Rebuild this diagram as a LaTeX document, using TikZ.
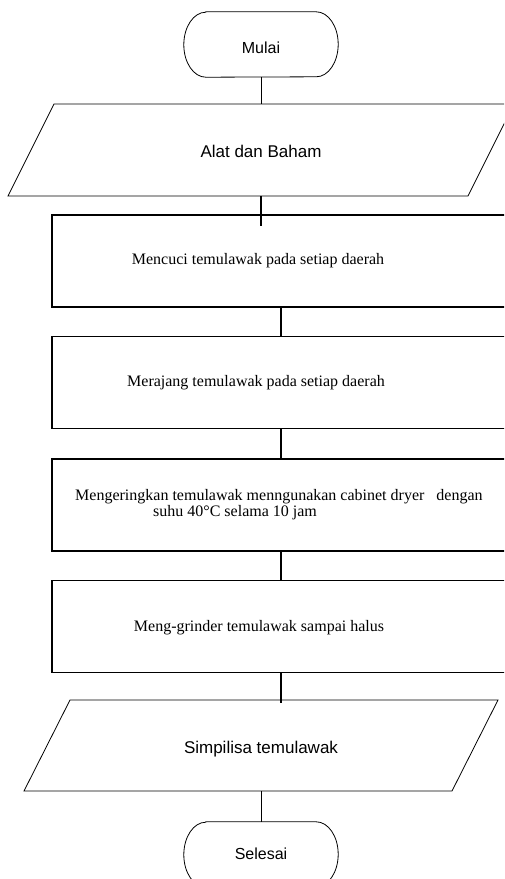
\documentclass[tikz,border=0pt]{standalone}
\usepackage{fontspec}
\setmainfont{Liberation Serif}
\newfontfamily\sansf{Liberation Sans}
\newcommand{\termoutline}[1]{%
  \draw[line width=0.8pt] ([xshift=22pt]#1.north west) -- ([xshift=-22pt]#1.north east)
    arc[start angle=90,end angle=-90,x radius=22pt,y radius=32.5pt]
    -- ([xshift=22pt]#1.south west)
    arc[start angle=-90,end angle=-270,x radius=22pt,y radius=32.5pt] -- cycle;}
\begin{document}
\begin{tikzpicture}[x=1pt,y=-1pt,
  thinln/.style={line width=0.8pt},
  thickln/.style={line width=1.6pt},
  term/.style={rectangle,minimum width=154pt,minimum height=65pt,inner sep=0pt},
  procbox/.style={draw,thickln,rectangle,minimum width=458pt,minimum height=92pt,inner sep=0pt},
  sanstxt/.style={font=\sansf\fontsize{16}{16}\selectfont,inner sep=0pt},
  sanstxtb/.style={font=\sansf\fontsize{17}{17}\selectfont,inner sep=0pt},
  seriftxt/.style={font=\fontsize{16}{16}\selectfont,inner sep=0pt}
]
\useasboundingbox (0,0) rectangle (504,879);
\clip (0,0) rectangle (504,879);

% terminals
\node[term] (start) at (261,44.5) {};
\termoutline{start}
\node[sanstxt] (starttxt) at (261,47.5) {Mulai};

% parallelogram 1
\coordinate (p1tl) at (54,104);
\coordinate (p1tr) at (514,104);
\coordinate (p1br) at (468,196);
\coordinate (p1bl) at (8,196);
\draw[thinln] (p1tl) -- (p1tr) -- (p1br) -- (p1bl) -- cycle;
\coordinate (p1top) at (261,104);
\coordinate (p1bot) at (261,196);
\node[sanstxtb] (p1txt) at (261,151) {Alat dan Baham};

% process boxes
\node[procbox] (r1) at (281,261) {};
\node[procbox] (r2) at (281,382.5) {};
\node[procbox] (r3) at (281,505) {};
\node[procbox] (r4) at (281,626.5) {};

\node[seriftxt,anchor=base] (r1txt) at (258,264) {Mencuci temulawak pada setiap daerah};
\node[seriftxt,anchor=base] (r2txt) at (256,386) {Merajang temulawak pada setiap daerah};
\node[seriftxt,anchor=base west] (r3txta) at (75,500) {Mengeringkan temulawak menngunakan cabinet dryer\ \ \ dengan};
\node[seriftxt,anchor=base west] (r3txtb) at (153,516) {suhu 40°C selama 10 jam};
\node[seriftxt,anchor=base] (r4txt) at (259,631) {Meng-grinder temulawak sampai halus};

% parallelogram 2
\coordinate (p2tl) at (70,700);
\coordinate (p2tr) at (498,700);
\coordinate (p2br) at (452,791);
\coordinate (p2bl) at (24,791);
\draw[thinln] (p2tl) -- (p2tr) -- (p2br) -- (p2bl) -- cycle;
\coordinate (p2bot) at (261,791);
\node[sanstxtb] (p2txt) at (261,749) {Simpilisa temulawak};

\node[term] (stop) at (261,854.5) {};
\termoutline{stop}
\node[sanstxt] (stoptxt) at (261,854) {Selesai};

% connectors
\coordinate (e1) at (261,226);
\coordinate (e4) at (281,703);
\draw[thinln] (start.south) -- (p1top);
\draw[line width=1.1pt] (p1bot) -- (e1);
\draw[thickln] (r1.south) -- (r2.north);
\draw[thickln] (r2.south) -- (r3.north);
\draw[thickln] (r3.south) -- (r4.north);
\draw[thickln] (r4.south) -- (e4);
\draw[thinln] (p2bot) -- (stop.north);
\end{tikzpicture}
\end{document}
